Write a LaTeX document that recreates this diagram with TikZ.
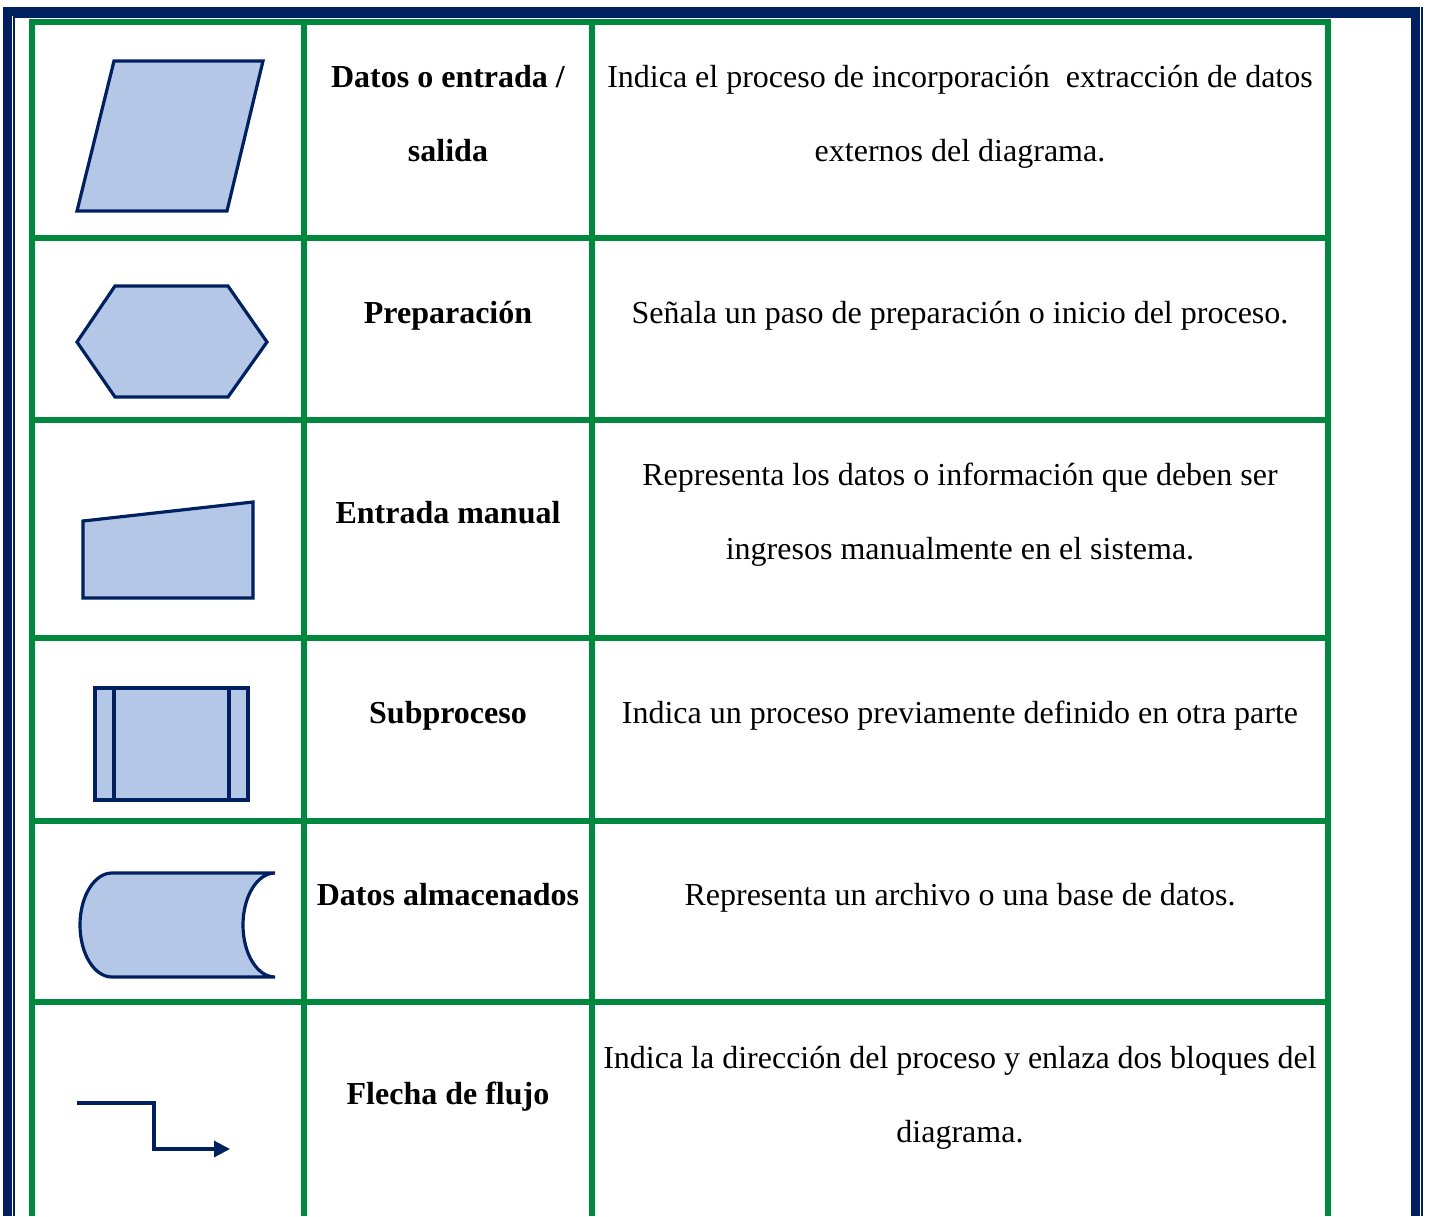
\documentclass[tikz,border=0pt]{standalone}
\usepackage{fontspec}
\setmainfont{Liberation Serif}
\usetikzlibrary{arrows.meta}
\definecolor{navy}{RGB}{0,32,96}
\definecolor{lightblue}{RGB}{180,199,231}
\definecolor{gridgreen}{RGB}{0,136,62}

\begin{document}
\begin{tikzpicture}[x=0.375pt, y=-0.375pt,
  sym/.style={draw=navy, fill=lightblue, line width=1.2pt, line join=miter},
  lbl/.style={font=\fontsize{12}{27.75}\selectfont\bfseries, align=center, anchor=base, inner sep=0pt},
  desc/.style={font=\fontsize{12}{27.75}\selectfont, align=center, anchor=base, inner sep=0pt},
  rule/.style={gridgreen, line width=2.25pt}
  ]
  \useasboundingbox (0,0) rectangle (1430,1216);

  % page frame
  \draw[navy, line width=3.4pt] (7.5,1216) -- (7.5,11.5) -- (1415.5,11.5) -- (1415.5,1216);
  \draw[navy, line width=0.8pt] (14,1216) -- (14,17.4) -- (1411,17.4);
  \draw[navy, line width=0.8pt] (1422,7) -- (1422,1216);

  % table grid
  \draw[rule] (32,1216) -- (32,22) -- (1328,22) -- (1328,1216);
  \draw[rule] (304,22) -- (304,1216);
  \draw[rule] (592,22) -- (592,1216);
  \foreach \y in {238,420,638,821,1002}
    \draw[rule] (32,\y) -- (1328,\y);

  % symbols
  \draw[sym] (114,61) -- (263,61) -- (227,211) -- (77,211) -- cycle;
  \draw[sym] (115,286) -- (228,286) -- (267,342) -- (228,397) -- (115,397) -- (77,342) -- cycle;
  \draw[sym] (83,521) -- (253,502) -- (253,598) -- (83,598) -- cycle;
  \draw[sym] (95,688) rectangle (248,800);
  \draw[sym] (114,688) -- (114,800);
  \draw[sym] (229,688) -- (229,800);
  \draw[sym] (112,873) -- (275,873)
    .. controls (257.3,873) and (243,896.3) .. (243,925)
    .. controls (243,953.7) and (257.3,977) .. (275,977)
    -- (112,977)
    .. controls (94.3,977) and (80,953.7) .. (80,925)
    .. controls (80,896.3) and (94.3,873) .. (112,873) -- cycle;
  \coordinate (s) at (77,1103);
  \coordinate (t) at (230,1149);
  \draw[navy, line width=1.2pt, -{Triangle[length=6pt, width=6pt]}]
    (s) -- (154,1103) -- (154,1149) -- (t);

  % names
  \node[lbl] (A) at (448,161) {Datos o entrada /\\salida};
  \node[lbl] (B) at (448,323) {Preparación};
  \node[lbl] (C) at (448,523) {Entrada manual};
  \node[lbl] (D) at (448,723) {Subproceso};
  \node[lbl] (E) at (448,905) {Datos almacenados};
  \node[lbl] (F) at (448,1104) {Flecha de flujo};

  % descriptions
  \node[desc] (A2) at (960,161) {Indica el proceso de incorporación\ \ extracción de datos\\externos del diagrama.};
  \node[desc] (B2) at (960,323) {Señala un paso de preparación o inicio del proceso.};
  \node[desc] (C2) at (960,559) {Representa los datos o información que deben ser\\ingresos manualmente en el sistema.};
  \node[desc] (D2) at (960,723) {Indica un proceso previamente definido en otra parte};
  \node[desc] (E2) at (960,905) {Representa un archivo o una base de datos.};
  \node[desc] (F2) at (960,1142) {Indica la dirección del proceso y enlaza dos bloques del\\diagrama.};
\end{tikzpicture}
\end{document}
